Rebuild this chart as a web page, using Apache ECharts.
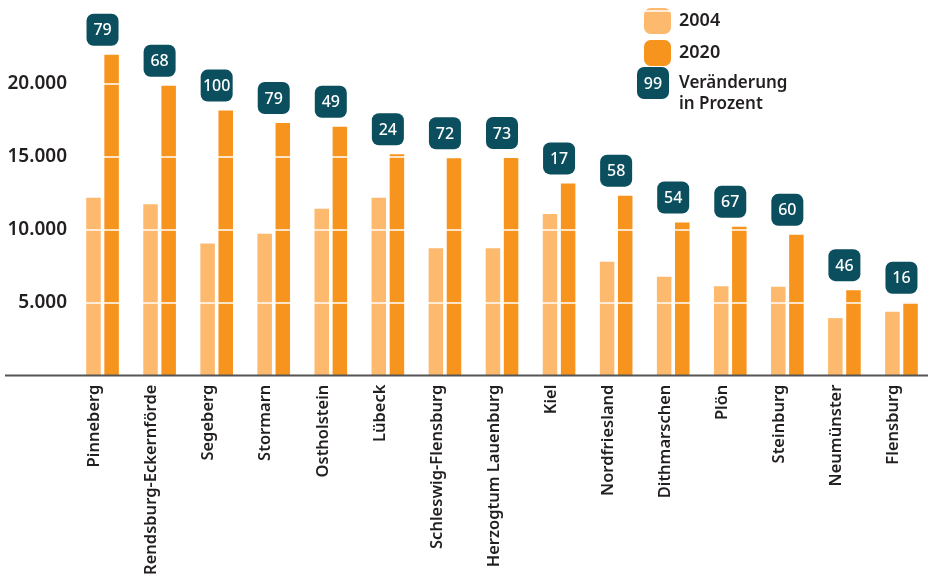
<!DOCTYPE html>
<html>
<head>
<meta charset="utf-8">
<script src="https://cdn.jsdelivr.net/npm/echarts@6/dist/echarts.min.js"></script>
<style>
html,body{margin:0;padding:0;background:#fff;}
#c{width:930px;height:579px;}
</style>
</head>
<body>
<div id="c"></div>
<script>
const categories = ['Pinneberg','Rendsburg-Eckernförde','Segeberg','Stormarn','Ostholstein','Lübeck','Schleswig-Flensburg','Herzogtum Lauenburg','Kiel','Nordfriesland','Dithmarschen','Plön','Steinburg','Neumünster','Flensburg'];
const values2004 = [12200, 11750, 9050, 9720, 11440, 12200, 8730, 8730, 11080, 7800, 6780, 6120, 6100, 3940, 4380];
const values2020 = [22000, 19870, 18170, 17320, 17060, 15180, 14900, 14920, 13180, 12340, 10500, 10200, 9650, 5860, 5000];
const changePct = [79, 68, 100, 79, 49, 24, 72, 73, 17, 58, 54, 67, 60, 46, 16];
const yTicks = [5000, 10000, 15000, 20000];
const legendBadgeText = '99';
const legendBadgeLabel = 'Veränderung\nin Prozent';

const FONT = 'Noto Sans';
const TEAL = '#0b4e5e';
const LIGHT = '#fdb96d';
const ORANGE = '#f7941d';
const TEXT = '#231f20';

function fmt(v){ return String(v).replace(/\B(?=(\d{3})+(?!\d))/g, '.'); }

const chart = echarts.init(document.getElementById('c'), null, {renderer:'canvas'});
const option = {
  animation: false,
  backgroundColor: '#fff',
  textStyle: {fontFamily: FONT},
  grid: {left: 74, width: 858, top: 11, height: 364.6, containLabel: false},
  legend: {
    orient: 'vertical', left: 639, top: 3,
    itemWidth: 27, itemHeight: 26, itemGap: 6,
    icon: 'roundRect',
    data: ['2004', '2020'],
    textStyle: {fontFamily: FONT, fontSize: 18, fontWeight: 600, color: TEXT, padding: [0,0,0,3]},
    selectedMode: false
  },
  xAxis: {
    type: 'category', data: categories,
    axisLine: {show: false}, axisTick: {show: false},
    axisLabel: {
      interval: 0, rotate: 90, margin: 9,
      fontFamily: FONT, fontSize: 16.5, fontWeight: 600, color: TEXT,
      verticalAlign: 'bottom', lineHeight: 16
    }
  },
  yAxis: {
    type: 'value', min: 0, max: 25000, interval: 5000, z: 5,
    axisLine: {show: false}, axisTick: {show: false},
    axisLabel: {
      margin: 7, fontFamily: FONT, fontSize: 19, fontWeight: 600, color: TEXT,
      formatter: v => yTicks.indexOf(v) >= 0 ? fmt(v) : ''
    },
    splitLine: {show: true, lineStyle: {color: '#ffffff', width: 1.5}}
  },
  series: [
    {
      name: '2004', type: 'bar', data: values2004,
      barWidth: 14.5, barGap: '25%',
      itemStyle: {color: LIGHT}
    },
    {
      name: '2020', type: 'bar', data: values2020,
      barWidth: 14.5,
      itemStyle: {color: ORANGE}
    },
    {
      name: 'Veränderung', type: 'custom', z: 10,
      data: categories.map((c, i) => [i, values2020[i], changePct[i]]),
      encode: {x: 0, y: 1},
      renderItem: function (params, api) {
        const pt = api.coord([api.value(0), api.value(1)]);
        const cy = pt[1] - 9 - 16;
        return {
          type: 'group',
          children: [
            {type: 'rect', shape: {x: pt[0] - 16, y: cy - 16, width: 32, height: 32, r: 7}, style: {fill: TEAL}},
            {type: 'text', style: {text: String(api.value(2)), x: pt[0], y: cy + 1, align: 'center', verticalAlign: 'middle', fill: '#fff', font: '500 16px "Noto Sans"'}}
          ]
        };
      }
    }
  ]
};
chart.setOption(option);

const y0 = chart.convertToPixel({yAxisIndex: 0}, 0);
chart.setOption({
  graphic: [
    {type: 'line', shape: {x1: 5, y1: y0, x2: 928, y2: y0}, style: {stroke: '#555', lineWidth: 2}, z: 20},
    {type: 'rect', shape: {x: 637, y: 67, width: 32, height: 32, r: 7}, style: {fill: TEAL}, z: 20},
    {type: 'text', x: 653, y: 84, style: {text: legendBadgeText, fill: '#fff', font: '500 16px "Noto Sans"', align: 'center', verticalAlign: 'middle'}, z: 21},
    {type: 'text', x: 679, y: 73, style: {text: legendBadgeLabel, fill: TEXT, font: '600 17px "Noto Sans"', lineHeight: 21, align: 'left', verticalAlign: 'top'}, z: 21}
  ]
});
</script>
</body>
</html>
